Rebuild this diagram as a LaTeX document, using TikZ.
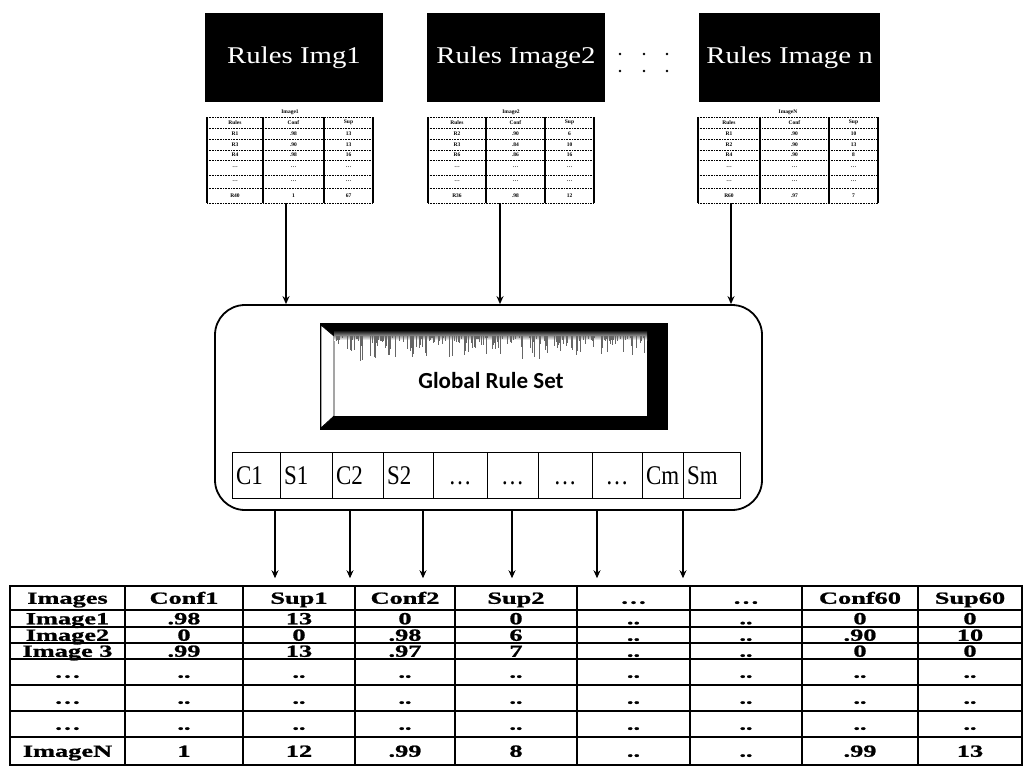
\documentclass[tikz,border=0pt]{standalone}
\usepackage{fontspec}
\setmainfont{Liberation Serif}
\newfontfamily\tabfont{Liberation Serif}[FakeStretch=1.55, FakeBold=1.2]
\newfontfamily\boxfont{Liberation Serif}[FakeStretch=1.2]
\newfontfamily\cellfont{Liberation Serif}[FakeStretch=0.85]
\newfontfamily\grsfont{Carlito}
\usetikzlibrary{arrows.meta}

\def\dd{..}
\def\srow{{117,128,139,150,160,175,188,203}}
\def\cellx{{232,280,332,383,433,487,538,592,642,683,740}}
\def\colx{{10,125,243,355,455,577,690,802,918,1022}}
\def\rowy{{586,610,627,643,659,685,711,737,765}}

% small rule table: name, four x borders, title, rows
\newcommand{\ruletab}[7]{%
  \node[stext] at ({(#2+#5)/2},112) {#6};
  \draw[sgrid] (#2,117) -- (#5,117);
  \foreach \ra/\rb/\rc [count=\k] in {#7}{
    \pgfmathsetmacro\ya{\srow[\k-1]}
    \pgfmathsetmacro\yb{\srow[\k]}
    \node[stext] at ({(#2+#3)/2},{(\ya+\yb)/2}) {\ra};
    \node[stext] at ({(#3+#4)/2},{(\ya+\yb)/2}) {\rb};
    \node[stext] at ({(#4+#5)/2},{(\ya+\yb)/2}) {\rc};
    \draw[sgrid] (#2,\yb) -- (#5,\yb);
  }
  \foreach \xx in {#2,#3,#4,#5}
    \draw[svert] (\xx,117) -- (\xx,203);
  \node[inner sep=0pt, minimum width={#5-#2}, minimum height=86] (#1) at ({(#2+#5)/2},160) {};
}

\begin{document}
\begin{tikzpicture}[x=1pt, y=-1pt,
  rbox/.style={fill=black, text=white, minimum width=178, minimum height=89, inner sep=0pt,
    font=\boxfont\fontsize{24}{24}\selectfont},
  stext/.style={inner sep=0pt, font=\bfseries\fontsize{5.5}{5.5}\selectfont},
  svert/.style={line width=1.1pt},
  sgrid/.style={densely dotted, line width=0.6pt},
  gcell/.style={draw, line width=1pt, inner sep=0pt, text height=18pt, text depth=0pt,
    font=\cellfont\fontsize{27}{27}\selectfont},
  tcell/.style={draw, line width=1.5pt, inner sep=0pt, text height=11.5pt, text depth=0pt,
    font=\tabfont\bfseries\fontsize{17}{17}\selectfont},
  arr/.style={line width=1.3pt, -{Stealth[length=8pt,width=7pt]}}]
\useasboundingbox (0,0) rectangle (1026,769);

% rule images
\node[rbox] (img1) at (294,57.5) {Rules Img1};
\node[rbox] (img2) at (516,57.5) {Rules Image2};
\node[rbox, minimum width=181] (imgn) at (789.5,57.5) {Rules Image n};
\foreach \x in {620,644,667}
  \foreach \y in {54,71}
    \fill (\x,\y) circle (1.4pt);

% rule tables
\ruletab{tab1}{207}{263}{324}{373}{Image1}{Rules/Conf/Sup, R1/.98/13, R3/.90/13, R4/.98/16,
  \ldots/\ldots/\ldots, \ldots/\ldots/\ldots, R40/1/67}
\ruletab{tab2}{428}{486}{545}{594}{Image2}{Rules/Conf/Sup, R2/.90/6, R3/.84/10, R6/.86/16,
  \ldots/\ldots/\ldots, \ldots/\ldots/\ldots, R36/.98/12}
\ruletab{tabn}{698}{760}{829}{878}{ImageN}{Rules/Conf/Sup, R1/.90/10, R2/.90/13, R4/.90/8,
  \ldots/\ldots/\ldots, \ldots/\ldots/\ldots, R60/.97/7}

% global rule set
\node[draw, line width=1.8pt, rounded corners=30pt, minimum width=547, minimum height=205] (gbox) at (488.5,407.5) {};
\fill[black] (320,323) rectangle (668,430);
\fill[white] (334,330) rectangle (647,416);
\filldraw[fill=white, draw=black, line width=0.8pt] (321,325) -- (334,336) -- (334,416) -- (321,428) -- cycle;
\shade[top color=black, bottom color=white] (334,330) rectangle (647,340);
\pgfmathsetseed{7}
\foreach \i in {1,...,220}{
  \pgfmathsetmacro\xx{336+309*rnd}
  \pgfmathsetmacro\hh{2+26*rnd*rnd}
  \draw[black!60, line width=0.7pt] (\xx,336) -- (\xx,336+\hh);
}
\node[font=\grsfont\bfseries\fontsize{23}{23}\selectfont] (grs) at (491,381) {Global Rule Set};

\foreach \t/\al [count=\i] in {C1/l,S1/l,C2/l,S2/l,\ldots/c,\ldots/c,\ldots/c,\ldots/c,Cm/l,Sm/l}{
  \pgfmathsetmacro\xa{\cellx[\i-1]}
  \pgfmathsetmacro\xb{\cellx[\i]}
  \pgfmathsetmacro\tw{\xb-\xa-8}
  \node[gcell, minimum width={\xb-\xa}, minimum height=46] (c\i) at ({(\xa+\xb)/2},475) {\makebox[\tw pt][\al]{\t}};
}

% image table
\foreach \rowtxt [count=\r] in {
  {Images,Conf1,Sup1,Conf2,Sup2,\ldots,\ldots,Conf60,Sup60},
  {Image1,.98,13,0,0,\dd,\dd,0,0},
  {Image2,0,0,.98,6,\dd,\dd,.90,10},
  {Image 3,.99,13,.97,7,\dd,\dd,0,0},
  {\ldots,\dd,\dd,\dd,\dd,\dd,\dd,\dd,\dd},
  {\ldots,\dd,\dd,\dd,\dd,\dd,\dd,\dd,\dd},
  {\ldots,\dd,\dd,\dd,\dd,\dd,\dd,\dd,\dd},
  {ImageN,1,12,.99,8,\dd,\dd,.99,13}}{
  \foreach \txt [count=\c] in \rowtxt {
    \pgfmathsetmacro\xa{\colx[\c-1]}
    \pgfmathsetmacro\xb{\colx[\c]}
    \pgfmathsetmacro\ya{\rowy[\r-1]}
    \pgfmathsetmacro\yb{\rowy[\r]}
    \node[tcell, minimum width={\xb-\xa}, minimum height={\yb-\ya}] (t-\r-\c) at ({(\xa+\xb)/2},{(\ya+\yb)/2}) {\txt};
  }
}

% arrows
\coordinate (a1) at (286,203);
\coordinate (a2) at (500,203);
\coordinate (a3) at (731,203);
\foreach \i in {1,2,3}
  \draw[arr] (a\i) -- (a\i |- gbox.north);
\foreach \x [count=\i] in {275,350,423,512,597,683}{
  \coordinate (b\i) at (\x,510);
  \draw[arr, shorten >=7pt] (b\i) -- (b\i |- t-1-1.north);
}
\end{tikzpicture}
\end{document}
